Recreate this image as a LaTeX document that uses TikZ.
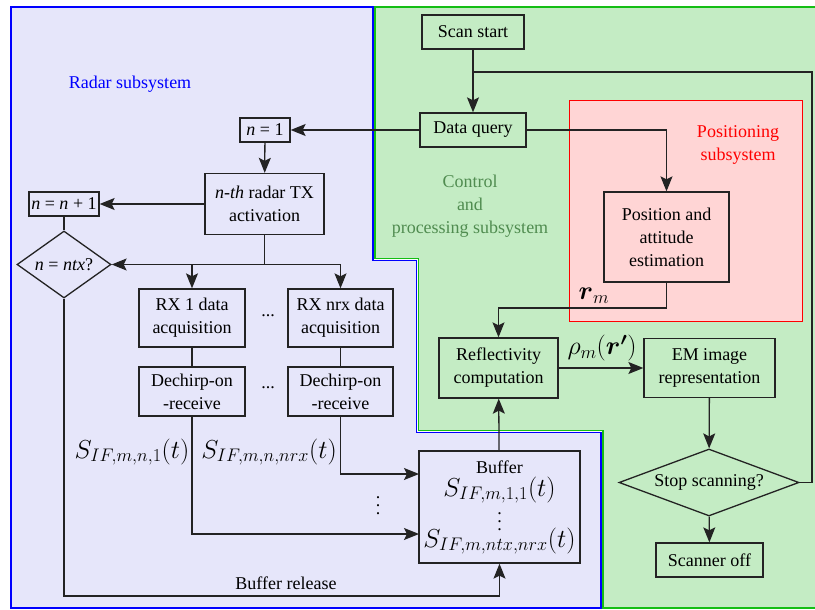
\documentclass[tikz,border=0pt]{standalone}
\usepackage{fix-cm}
\usepackage{amsmath}
\usepackage{fontspec}
\setmainfont{Liberation Serif}
\usetikzlibrary{arrows.meta,shapes.geometric}
\definecolor{radarfill}{RGB}{230,230,250}
\definecolor{ctrlfill}{RGB}{196,236,196}
\definecolor{posfill}{RGB}{255,213,213}
\definecolor{ctrltext}{RGB}{80,140,80}
\definecolor{ctrlborder}{RGB}{20,190,20}
\definecolor{boxline}{RGB}{35,35,35}
\newcommand\myvdots{\vbox{\baselineskip=8pt\lineskiplimit=-10pt\hbox{.}\hbox{.}\hbox{.}}}
\begin{document}
\begin{tikzpicture}[x=1pt,y=-1pt,
  font=\fontsize{18}{23}\selectfont,
  box/.style={draw=boxline, line width=1.3pt, rectangle, align=center, inner sep=1pt, minimum width=#1},
  dia/.style={draw=boxline, line width=1.3pt, diamond, align=center, inner sep=0pt},
  conn/.style={draw=boxline, line width=1.3pt},
  arr/.style={conn, -{Stealth[length=15pt,width=12pt,inset=3pt]}},
  mlab/.style={font=\fontsize{26}{30}\selectfont, inner sep=0pt},
  dotlab/.style={font=\fontsize{18}{23}\selectfont, inner sep=0pt},
  region/.style={line width=1.5pt}]
\useasboundingbox (0,0) rectangle (815,610);
% regions
\filldraw[region, fill=ctrlfill, draw=ctrlborder] (375,7) -- (817,7) -- (817,608) -- (603,608) -- (603,430.5) -- (418.5,430.5) -- (418.5,258.5) -- (375,258.5) -- cycle;
\filldraw[region, fill=radarfill, draw=blue] (11,7) -- (373,7) -- (373,260.5) -- (416.5,260.5) -- (416.5,432.5) -- (601,432.5) -- (601,608) -- (11,608) -- cycle;
\filldraw[line width=1pt, fill=posfill, draw=red] (569,101) rectangle (802,321);
% region titles
\node[text=blue] (radartitle) at (130,84) {Radar subsystem};
\node[text=ctrltext, align=center] (ctrltitle) at (470,206) {Control\\and\\processing subsystem};
\node[text=red, align=center] (postitle) at (738,145) {Positioning\\subsystem};
% nodes
\node[box=102pt, minimum height=34pt] (scan) at (473,32) {Scan start};
\node[box=106pt, minimum height=34pt] (query) at (473,130) {Data query};
\node[box=50pt, minimum height=24pt] (n1) at (265,130) {\textit{n} = 1};
\node[box=119pt, minimum height=61pt] (tx) at (264.5,204) {\textit{n-th} radar TX\\activation};
\node[box=70pt, minimum height=24pt] (nn1) at (64,204) {\textit{n} = \textit{n} + 1};
\node[dia, shape aspect=1.4, minimum width=94pt, minimum height=67pt] (ntx) at (64,264.5) {\textit{n} = \textit{ntx}?};
\node[box=106pt, minimum height=58pt] (rx1) at (192,318) {RX 1 data\\acquisition};
\node[box=105pt, minimum height=58pt] (rxn) at (340.5,318) {RX nrx data\\acquisition};
\node[box=106pt, minimum height=49pt] (dc1) at (192,391.5) {Dechirp-on\\-receive};
\node[box=105pt, minimum height=49pt] (dcn) at (340.5,391.5) {Dechirp-on\\-receive};
\node (dotsA) at (268,316) {...};
\node (dotsB) at (268,388) {...};
\node[box=161pt, minimum height=112pt] (buffer) at (499.5,507) {};
\node[inner sep=0pt] (buftitle) at (499.5,467) {Buffer};
\node[mlab] (bufA) at (499.5,490) {$S_{IF,m,1,1}(t)$};
\node[dotlab] (bufdots) at (499.5,522) {\myvdots};
\node[mlab] (bufB) at (499.5,541) {$S_{IF,m,ntx,nrx}(t)$};
\node[box=119pt, minimum height=60pt] (refl) at (498.5,368) {Reflectivity\\computation};
\node[box=131pt, minimum height=59pt] (em) at (709.5,368) {EM image\\representation};
\node[dia, shape aspect=2.7, minimum width=180pt, minimum height=67pt] (stop) at (709,482.5) {Stop scanning?};
\node[box=107pt, minimum height=34pt] (off) at (709.5,560) {Scanner off};
\node[box=125pt, minimum height=90pt] (pos) at (666.5,237) {Position and\\attitude\\estimation};
% helper coordinates
\coordinate (loopR) at (812,72);
\coordinate (in1) at (419,534);
\coordinate (inN) at (419,474);
\coordinate (relY) at (0,596);
\coordinate (rmY) at (0,308);
% connectors
\draw[arr] (scan) -- (query);
\draw[conn] (stop.east) -| (loopR) -- (scan.south |- loopR);
\draw[arr] (query) -- (n1);
\draw[arr] (query.east) -| (pos.north);
\draw[arr] (n1) -- (tx);
\draw[arr] (tx) -- (nn1);
\draw[conn] (nn1) -- (ntx);
\draw[arr] (tx.south) |- (ntx.east);
\draw[arr] (tx.south |- ntx.east) -| (rx1.north);
\draw[arr] (tx.south |- ntx.east) -| (rxn.north);
\draw[conn] (rx1) -- (dc1);
\draw[conn] (rxn) -- (dcn);
\draw[arr] (dc1.south) |- (in1);
\draw[arr] (dcn.south) |- (inN);
\draw[arr] (ntx.south) -- (ntx.south |- relY) -| (buffer.south);
\draw[arr] (buffer) -- (refl);
\draw[arr] (pos.south) -- (pos.south |- rmY) -| (refl.north);
\draw[arr] (refl) -- (em);
\draw[arr] (em) -- (stop);
\draw[arr] (stop) -- (off);
% connector labels
\node[mlab] (s1) at (132,452) {$S_{IF,m,n,1}(t)$};
\node[mlab] (sn) at (269,452) {$S_{IF,m,n,nrx}(t)$};
\node[dotlab] (vd) at (378,506) {\myvdots};
\node (rel) at (286,583) {Buffer release};
\node[mlab] (rm) at (594,296) {$\boldsymbol{r}_m$};
\node[mlab] (rho) at (602,348) {$\rho_m(\boldsymbol{r'})$};
\end{tikzpicture}
\end{document}
